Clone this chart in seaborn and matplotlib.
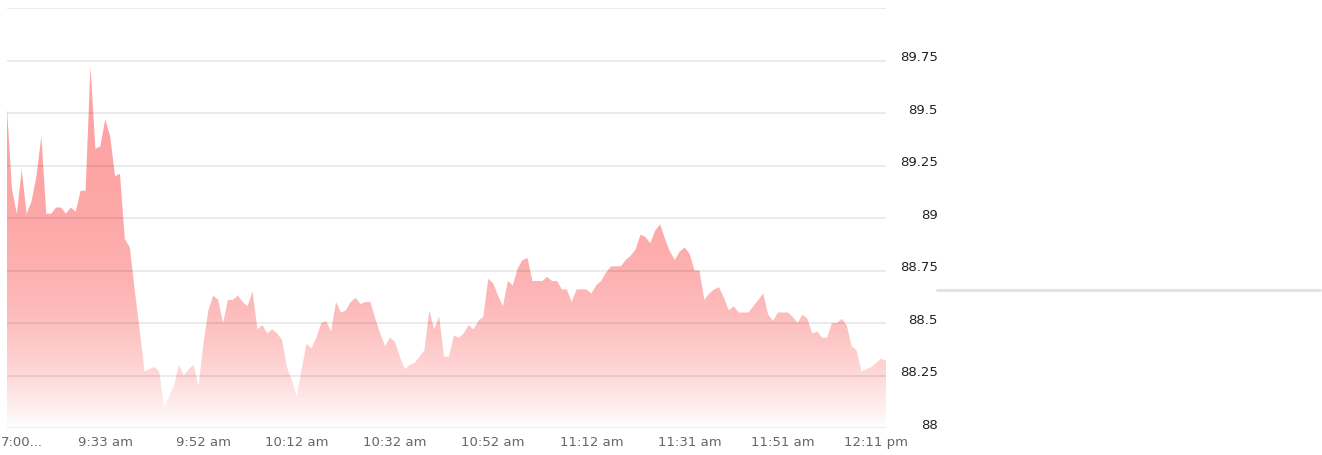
import numpy as np
import pandas as pd
import matplotlib
matplotlib.use("Agg")
import matplotlib.pyplot as plt
import seaborn as sns
from matplotlib.patches import Polygon
from matplotlib.lines import Line2D
from matplotlib.transforms import ScaledTranslation

# price series, one point per sample
prices = [
    89.52, 89.14, 89.02, 89.23, 89.02, 89.08, 89.20, 89.39, 89.02, 89.02,
    89.05, 89.05, 89.02, 89.05, 89.03, 89.13, 89.13, 89.72, 89.33, 89.34,
    89.47, 89.39, 89.20, 89.21, 88.90, 88.86, 88.66, 88.47, 88.27, 88.28,
    88.29, 88.27, 88.10, 88.15, 88.20, 88.30, 88.25, 88.28, 88.30, 88.20,
    88.40, 88.56, 88.63, 88.61, 88.50, 88.61, 88.61, 88.63, 88.60, 88.58,
    88.65, 88.47, 88.49, 88.45, 88.47, 88.45, 88.42, 88.29, 88.23, 88.15,
    88.28, 88.40, 88.38, 88.43, 88.50, 88.51, 88.46, 88.60, 88.55, 88.56,
    88.60, 88.62, 88.59, 88.60, 88.60, 88.52, 88.45, 88.39, 88.43, 88.41,
    88.34, 88.28, 88.30, 88.31, 88.34, 88.37, 88.56, 88.47, 88.53, 88.34,
    88.34, 88.44, 88.43, 88.45, 88.49, 88.47, 88.51, 88.53, 88.71, 88.69,
    88.63, 88.58, 88.70, 88.68, 88.76, 88.80, 88.81, 88.70, 88.70, 88.70,
    88.72, 88.70, 88.70, 88.66, 88.66, 88.60, 88.66, 88.66, 88.66, 88.64,
    88.68, 88.70, 88.74, 88.77, 88.77, 88.77, 88.80, 88.82, 88.85, 88.92,
    88.91, 88.88, 88.94, 88.97, 88.90, 88.84, 88.80, 88.84, 88.86, 88.83,
    88.75, 88.75, 88.61, 88.64, 88.66, 88.67, 88.62, 88.56, 88.58, 88.55,
    88.55, 88.55, 88.58, 88.61, 88.64, 88.54, 88.51, 88.55, 88.55, 88.55,
    88.53, 88.50, 88.54, 88.52, 88.45, 88.46, 88.43, 88.43, 88.50, 88.50,
    88.52, 88.49, 88.39, 88.37, 88.27, 88.28, 88.29, 88.31, 88.33, 88.32,
]

x_tick_pos = [0, 20, 40, 59, 79, 99, 119, 139, 158, 177]
x_tick_labels = ["7:00...", "9:33 am", "9:52 am", "10:12 am", "10:32 am",
                 "10:52 am", "11:12 am", "11:31 am", "11:51 am", "12:11 pm"]
y_ticks = [88, 88.25, 88.5, 88.75, 89, 89.25, 89.5, 89.75, 90]
y_tick_labels = ["88", "88.25", "88.5", "88.75", "89", "89.25", "89.5", "89.75", ""]

sns.set_theme(style="white")
plt.rcParams['font.family'] = ['DejaVu Sans']

df = pd.DataFrame({"idx": np.arange(len(prices)), "price": prices})
n_last = len(prices) - 1

W, H = 1322, 456
fig = plt.figure(figsize=(W / 100, H / 100), dpi=100)
ax = fig.add_axes([7 / W, 27 / H, 879 / W, 420 / H])

# invisible line just to set up the data axes through seaborn
sns.lineplot(data=df, x="idx", y="price", ax=ax, linewidth=0, color="#ff5a5a")

# area with vertical gradient fill, clipped to the price polygon
verts = [(0, 88)] + list(zip(df["idx"], df["price"])) + [(n_last, 88)]
area = Polygon(verts, closed=True, facecolor="none", edgecolor="none")
ax.add_patch(area)

ys = np.linspace(90, 88, 500)
t = np.clip((ys - 88) / 1.75, 0, 1)
alpha = 0.56 * (1 - (1 - t) ** 3.5)
grad = np.zeros((len(ys), 1, 4))
grad[..., 0] = 0.99
grad[..., 1] = 0.36
grad[..., 2] = 0.36
grad[..., 3] = alpha[:, None]
im = ax.imshow(grad, extent=[0, n_last, 88, 90], aspect="auto",
               origin="upper", zorder=1, interpolation="bilinear")
im.set_clip_path(area)

ax.set_xlim(0, n_last)
ax.set_ylim(88, 90)

# axes styling
for s in ax.spines.values():
    s.set_visible(False)
ax.set_xlabel("")
ax.set_ylabel("")
ax.set_axisbelow(False)
ax.grid(axis="y", color="black", alpha=0.1, linewidth=1.1)
ax.grid(axis="x", visible=False)

ax.set_yticks(y_ticks)
ax.set_yticklabels(y_tick_labels)
ax.yaxis.tick_right()
ax.tick_params(axis="y", length=0, pad=37.4, labelsize=9.5, labelcolor="#222222")
plt.setp(ax.get_yticklabels(), ha="right", va="baseline")

ax.set_xticks(x_tick_pos)
ax.set_xticklabels(x_tick_labels)
ax.tick_params(axis="x", length=0, pad=5, labelsize=9.5, labelcolor="#666666")
first = ax.get_xticklabels()[0]
first.set_ha("left")
first.set_transform(first.get_transform() + ScaledTranslation(-6 / 100, 0, fig.dpi_scale_trans))

# separator line on the right side of the widget
fig.add_artist(Line2D([937 / W, 1320 / W], [1 - 291 / H, 1 - 291 / H],
                      transform=fig.transFigure, color="#e3e3e3", linewidth=2.2))

fig.savefig("out.png", dpi=100)
